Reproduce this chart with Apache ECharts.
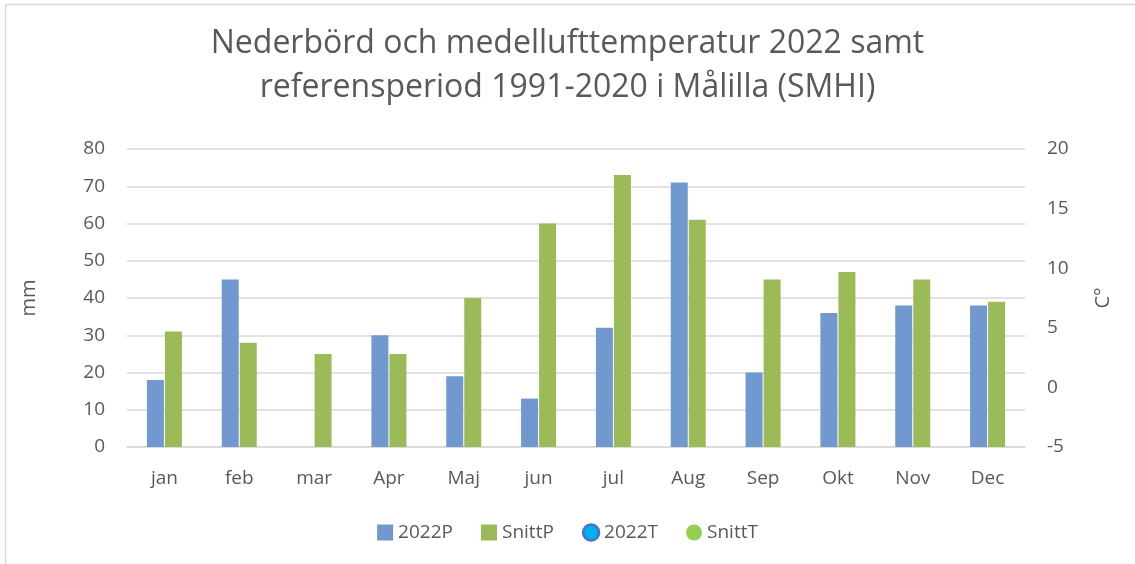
<!DOCTYPE html>
<html><head><meta charset="utf-8">
<script src="https://cdn.jsdelivr.net/npm/echarts@6/dist/echarts.min.js"></script>
<style>html,body{margin:0;padding:0;background:#fff}#c{width:1135px;height:564px}</style>
</head><body><div id="c"></div>
<script>
const months = ['jan','feb','mar','Apr','Maj','jun','jul','Aug','Sep','Okt','Nov','Dec'];
const p2022 = [18, 45, null, 30, 19, 13, 32, 71, 20, 36, 38, 38];
const pSnitt = [31, 28, 25, 25, 40, 60, 73, 61, 45, 47, 45, 39];
const t2022 = [null, null, null, null, null, null, null, null, null, null, null, null];
const tSnitt = [null, null, null, null, null, null, null, null, null, null, null, null];
const leftTicks = {min: 0, max: 80, interval: 10};
const rightTicks = {min: -5, max: 20, interval: 5};

const FONT = 'Open Sans';
const TXT = '#595959';
const chart = echarts.init(document.getElementById('c'), null, {renderer: 'canvas'});
chart.setOption({
  animation: false,
  textStyle: {fontFamily: FONT, color: TXT},
  graphic: [{type: 'rect', shape: {x: 5.5, y: 4.5, width: 1200, height: 700}, style: {fill: 'none', stroke: '#D9D9D9', lineWidth: 1.5}, silent: true}],
  title: {
    text: 'Nederbörd och medellufttemperatur 2022 samt\nreferensperiod 1991-2020 i Målilla (SMHI)',
    left: 'center', top: 17,
    textStyle: {fontFamily: FONT, fontSize: 32, fontWeight: 'normal', color: TXT, lineHeight: 44}
  },
  legend: {
    bottom: 17, left: 'center', itemGap: 28, itemWidth: 16, itemHeight: 16,
    textStyle: {fontFamily: FONT, fontSize: 19, color: TXT},
    data: [
      {name: '2022P', icon: 'rect'},
      {name: 'SnittP', icon: 'rect'},
      {name: '2022T', icon: 'circle', itemStyle: {color: '#00B0F0', borderColor: '#4472C4', borderWidth: 2.5}},
      {name: 'SnittT', icon: 'circle', itemStyle: {color: '#92D050'}}
    ]
  },
  grid: {left: 127, right: 110, top: 149, bottom: 117, containLabel: false},
  xAxis: {
    type: 'category', data: months,
    axisLine: {lineStyle: {color: '#D9D9D9', width: 1.5}},
    axisTick: {show: false},
    axisLabel: {fontSize: 19, color: TXT, margin: 22, fontFamily: FONT}
  },
  yAxis: [{
    type: 'value', min: leftTicks.min, max: leftTicks.max, interval: leftTicks.interval,
    name: 'mm', nameLocation: 'middle', nameGap: 88, nameRotate: 90,
    nameTextStyle: {fontSize: 20, color: TXT, fontFamily: FONT},
    axisLine: {show: false}, axisTick: {show: false},
    axisLabel: {fontSize: 19, color: TXT, margin: 22, fontFamily: FONT},
    splitLine: {lineStyle: {color: '#D9D9D9', width: 1.5}}
  }, {
    type: 'value', min: rightTicks.min, max: rightTicks.max, interval: rightTicks.interval,
    name: 'C°', nameLocation: 'middle', nameGap: 68, nameRotate: 90,
    nameTextStyle: {fontSize: 20, color: TXT, fontFamily: FONT},
    axisLine: {show: false}, axisTick: {show: false},
    axisLabel: {fontSize: 19, color: TXT, margin: 22, fontFamily: FONT},
    splitLine: {show: false}
  }],
  series: [
    {name: '2022P', type: 'bar', data: p2022, barWidth: 17, barGap: '6%', itemStyle: {color: '#7199CF'}},
    {name: 'SnittP', type: 'bar', data: pSnitt, barWidth: 17, barGap: '6%', itemStyle: {color: '#9BBB59'}},
    {name: '2022T', type: 'line', yAxisIndex: 1, data: t2022, symbol: 'circle', itemStyle: {color: '#00B0F0', borderColor: '#4472C4'}, lineStyle: {color: '#4472C4'}},
    {name: 'SnittT', type: 'line', yAxisIndex: 1, data: tSnitt, symbol: 'circle', itemStyle: {color: '#92D050'}, lineStyle: {color: '#92D050'}}
  ]
});
</script></body></html>
